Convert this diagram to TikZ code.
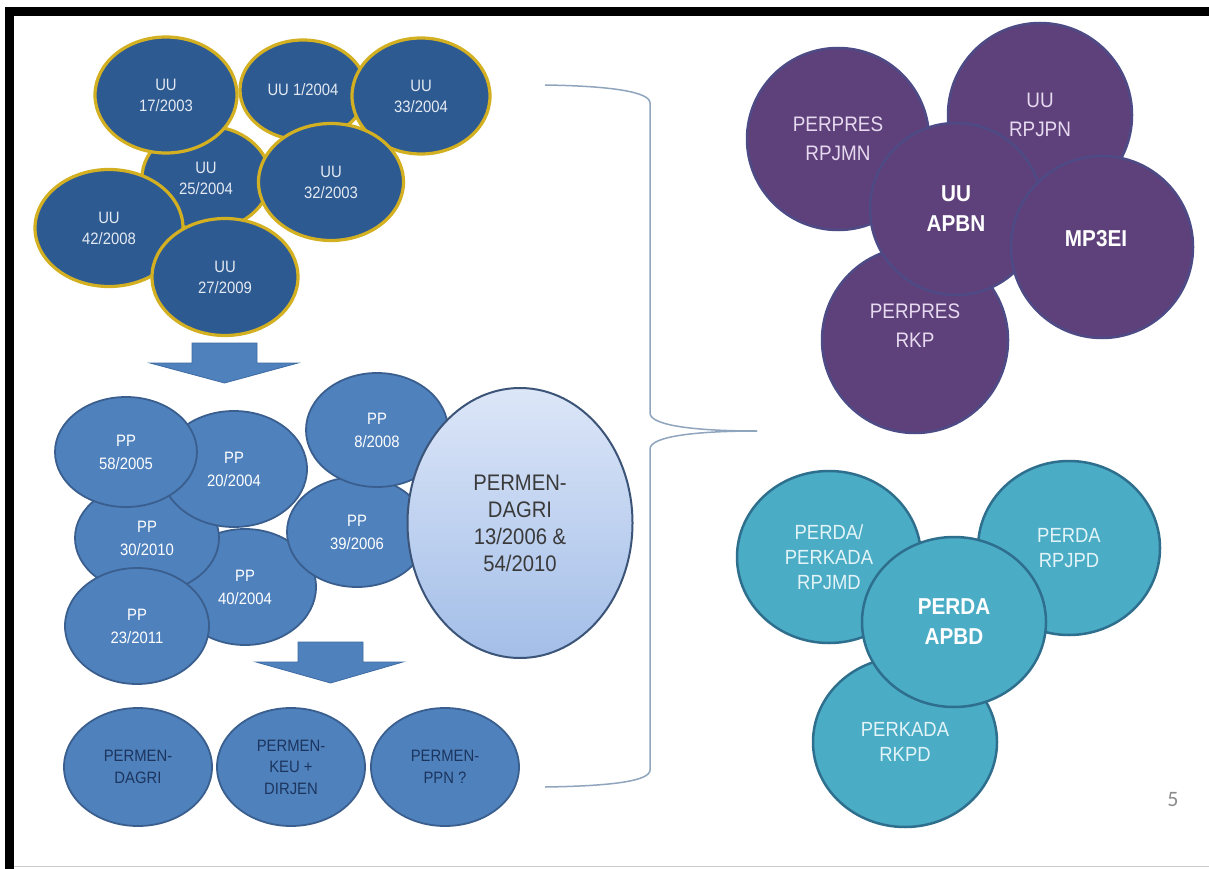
\documentclass[tikz,border=0pt]{standalone}
\usepackage{fontspec}
\setmainfont{Liberation Sans}
\newfontfamily\nar[FakeStretch=0.9]{Liberation Sans}
\newfontfamily\carl{Carlito}
\usetikzlibrary{shapes.geometric}
\definecolor{uufill}{HTML}{2E5A92}
\definecolor{uugold}{HTML}{D2B022}
\definecolor{uutext}{HTML}{E4EAF2}
\definecolor{ppfill}{HTML}{4F81BD}
\definecolor{ppline}{HTML}{3A5F8E}
\definecolor{navytext}{HTML}{1C355E}
\definecolor{arrline}{HTML}{3E6BA3}
\definecolor{pmtop}{HTML}{DCE6F8}
\definecolor{pmbot}{HTML}{A3BEE8}
\definecolor{pmline}{HTML}{3B5478}
\definecolor{pmtext}{HTML}{3A3A3A}
\definecolor{purfill}{HTML}{5E417A}
\definecolor{purline}{HTML}{4D4A86}
\definecolor{lav}{HTML}{E6D9F0}
\definecolor{tealfill}{HTML}{4BACC6}
\definecolor{tealline}{HTML}{2F6F8E}
\definecolor{tealtext}{HTML}{E2F4F8}
\definecolor{bracec}{HTML}{8FA5BE}
\tikzset{
  uu/.style={ellipse, fill=uufill, draw=uugold, line width=3.2pt, inner sep=0pt, text=uutext, align=center, font={\nar\fontsize{16.5}{21}\selectfont}},
  pp/.style={ellipse, fill=ppfill, draw=ppline, line width=1.8pt, inner sep=0pt, text=white, align=center, font={\nar\fontsize{16.5}{23}\selectfont}},
  bot/.style={pp, text=navytext, font={\nar\fontsize{16.5}{21.5}\selectfont}},
  blockarrow/.style={fill=ppfill, draw=arrline, line width=0.8pt},
  pur/.style={circle, fill=purfill, draw=purline, line width=2.5pt, inner sep=0pt, text=lav, align=center, font={\nar\fontsize{21}{29}\selectfont}},
  purb/.style={pur, text=white, font={\nar\bfseries\fontsize{23}{30}\selectfont}},
  tl/.style={ellipse, fill=tealfill, draw=tealline, line width=2.5pt, inner sep=0pt, text=tealtext, align=center, font={\nar\fontsize{20.5}{25}\selectfont}},
  tlb/.style={tl, text=white, font={\nar\bfseries\fontsize{23}{30}\selectfont}},
  bracestyle/.style={draw=bracec, line width=1.5pt}
}
\begin{document}
\begin{tikzpicture}[x=1pt, y=-1pt]
\useasboundingbox (0,0) rectangle (1209,869);
\fill[white] (0,0) rectangle (1209,869);
% frame
\fill[black] (5,7) rectangle (14,869);
\fill[black] (5,7) rectangle (1209,16);
\draw[black!20, line width=1.5pt] (14,866.5) -- (1209,866.5);

% UU cluster
\node[uu, minimum width=128pt, minimum height=104pt] (u25) at (206,178) {UU\\25/2004};
\node[uu, minimum width=126pt, minimum height=100pt] (u1) at (303,90) {UU 1/2004};
\node[uu, minimum width=138pt, minimum height=116pt] (u33) at (421,96) {UU\\33/2004};
\node[uu, minimum width=142pt, minimum height=116pt] (u17) at (166,95) {UU\\17/2003};
\node[uu, minimum width=145pt, minimum height=117pt] (u32) at (331,182) {UU\\32/2003};
\node[uu, minimum width=148pt, minimum height=117pt] (u42) at (109,228) {UU\\42/2008};
\node[uu, minimum width=146pt, minimum height=117pt] (u27) at (225,277) {UU\\27/2009};

% arrow 1
\filldraw[blockarrow] (192,343) -- (257,343) -- (257,363) -- (298,363) -- (224.5,383) -- (150,363) -- (192,363) -- cycle;

% PP cluster
\node[pp, minimum width=142pt, minimum height=116pt] (p40) at (245,587) {PP\\40/2004};
\node[pp, minimum width=144pt, minimum height=110pt] (p30) at (147,538) {PP\\30/2010};
\node[pp, minimum width=146pt, minimum height=116pt] (p20) at (234,469) {PP\\20/2004};
\node[pp, minimum width=142pt, minimum height=110pt] (p58) at (126,452) {PP\\58/2005};
\node[pp, minimum width=144pt, minimum height=116pt] (p23) at (137,626) {PP\\23/2011};
\node[pp, minimum width=140pt, minimum height=110pt] (p39) at (357,532) {PP\\39/2006};
\node[pp, minimum width=142pt, minimum height=114pt] (p8) at (377,430) {PP\\8/2008};
\node[ellipse, top color=pmtop, bottom color=pmbot, draw=pmline, line width=2pt, inner sep=0pt,
      minimum width=225pt, minimum height=270pt, align=center, text=pmtext,
      font={\nar\fontsize{22.5}{27}\selectfont}] (pm) at (520,523) {PERMEN-\\DAGRI\\13/2006 \&\\54/2010};

% arrow 2
\filldraw[blockarrow] (298,642) -- (363,642) -- (363,662) -- (403,662) -- (330.5,683) -- (256,662) -- (298,662) -- cycle;

% bottom row
\node[bot, minimum width=148pt, minimum height=118pt] (b1) at (138,767) {PERMEN-\\DAGRI};
\node[bot, minimum width=148pt, minimum height=118pt] (b2) at (291,767) {PERMEN-\\KEU +\\DIRJEN};
\node[bot, minimum width=148pt, minimum height=118pt] (b3) at (445,767) {PERMEN-\\PPN ?};

% brace
\coordinate (brt) at (545,85);
\coordinate (brtip) at (757,431);
\coordinate (brb) at (545,787);
\draw[bracestyle] (brt) .. controls (612,86) and (650,92) .. (650,103) -- (650,413) .. controls (650,426) and (698,431) .. (brtip);
\draw[bracestyle] (brtip) .. controls (698,431) and (650,436) .. (650,449) -- (650,770) .. controls (650,781) and (612,786) .. (brb);

% purple cluster
\node[pur, minimum size=182pt] (rpjmn) at (838,139) {PERPRES\\RPJMN};
\node[pur, minimum size=184pt] (rpjpn) at (1040,115) {UU\\RPJPN};
\node[pur, minimum size=186pt, label={[text=lav, align=center, font={\nar\fontsize{21}{29}\selectfont}, yshift=14pt]center:PERPRES\\RKP}] (rkp) at (915,340) {};
\node[purb, minimum size=172pt] (apbn) at (956,209) {UU\\APBN};
\node[purb, minimum size=182pt, label={[text=white, font={\nar\bfseries\fontsize{23}{30}\selectfont}, xshift=-6pt, yshift=8pt]center:MP3EI}] (mp3ei) at (1102,247) {};

% teal cluster
\node[tl, minimum width=184pt, minimum height=172pt] (rpjmd) at (829,557) {PERDA/\\PERKADA\\RPJMD};
\node[tl, minimum width=182pt, minimum height=174pt] (rpjpd) at (1069,548) {PERDA\\RPJPD};
\node[tl, minimum width=184pt, minimum height=170pt] (rkpd) at (905,742) {PERKADA\\RKPD};
\node[tlb, minimum width=184pt, minimum height=170pt] (apbd) at (954,622) {PERDA\\APBD};

% page number
\node[text=black!45, font={\carl\fontsize{22}{26}\selectfont}] (pg) at (1173,800) {5};
\end{tikzpicture}
\end{document}
